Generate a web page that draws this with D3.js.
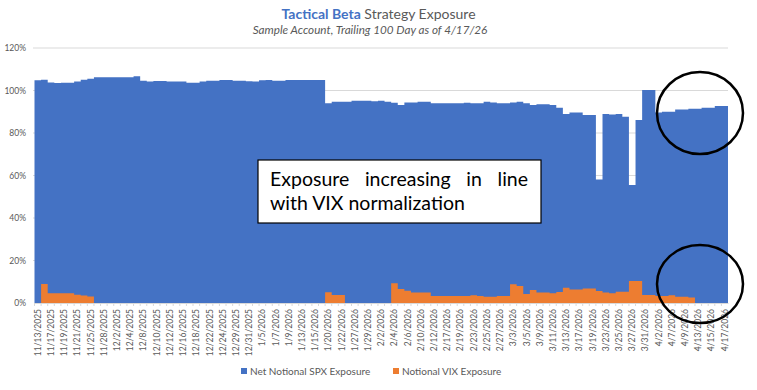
<!DOCTYPE html>
<html><head><meta charset="utf-8">
<script src="https://cdn.jsdelivr.net/npm/d3@7/dist/d3.min.js"></script>
<style>body{margin:0;background:#fff}svg{display:block}</style>
</head><body>
<svg id="c" width="757" height="390"></svg>
<script>
const dates = ["11/13/2025","11/14/2025","11/17/2025","11/18/2025","11/19/2025","11/20/2025","11/21/2025","11/24/2025","11/25/2025","11/26/2025","11/28/2025",
"12/1/2025","12/2/2025","12/3/2025","12/4/2025","12/5/2025","12/8/2025","12/9/2025","12/10/2025","12/11/2025","12/12/2025","12/15/2025","12/16/2025","12/17/2025","12/18/2025","12/19/2025","12/22/2025","12/23/2025","12/24/2025","12/26/2025","12/29/2025","12/30/2025","12/31/2025",
"1/2/2026","1/5/2026","1/6/2026","1/7/2026","1/8/2026","1/9/2026","1/12/2026","1/13/2026","1/14/2026","1/15/2026","1/16/2026","1/20/2026","1/21/2026","1/22/2026","1/23/2026","1/27/2026","1/28/2026","1/29/2026","1/30/2026",
"2/2/2026","2/3/2026","2/4/2026","2/5/2026","2/6/2026","2/9/2026","2/10/2026","2/11/2026","2/12/2026","2/13/2026","2/17/2026","2/18/2026","2/19/2026","2/20/2026","2/23/2026","2/24/2026","2/25/2026","2/26/2026","2/27/2026",
"3/2/2026","3/3/2026","3/4/2026","3/5/2026","3/6/2026","3/9/2026","3/10/2026","3/11/2026","3/12/2026","3/13/2026","3/16/2026","3/17/2026","3/18/2026","3/19/2026","3/20/2026","3/23/2026","3/24/2026","3/25/2026","3/26/2026","3/27/2026","3/30/2026","3/31/2026",
"4/1/2026","4/2/2026","4/6/2026","4/7/2026","4/8/2026","4/9/2026","4/10/2026","4/13/2026","4/14/2026","4/15/2026","4/16/2026","4/17/2026"];

const spx = [104.8,105.1,103.8,103.5,103.6,103.7,104.2,105.1,105.5,106.2,106.2,
106.2,106.2,106.2,106.2,106.7,104.6,104.2,104.5,104.5,104.2,104.2,104.2,103.7,103.7,104.2,104.6,104.6,104.9,104.9,104.6,104.6,104.3,
104.2,104.8,105.0,104.6,104.6,104.9,104.9,104.9,104.9,104.9,104.9,94.0,94.7,94.7,94.7,95.2,95.2,95.2,94.9,
95.2,94.7,94.2,93.2,94.4,94.4,94.7,94.7,94.0,94.0,94.0,94.0,94.0,94.2,94.0,94.0,94.7,94.4,94.0,
94.0,94.4,94.7,94.0,93.2,93.5,93.5,93.2,91.9,88.9,89.7,89.7,88.5,88.5,58.1,88.9,88.7,88.9,87.7,55.5,86.1,100.2,
100.2,89.6,90.0,90.0,91.1,91.1,91.4,91.4,91.9,91.9,92.7,92.7];

const vix = [0,8.9,4.6,4.6,4.6,4.6,3.9,3.5,3.1,0,0,
0,0,0,0,0,0,0,0,0,0,0,0,0,0,0,0,0,0,0,0,0,0,
0,0,0,0,0,0,0,0,0,0,0,5.1,3.8,3.8,0,0,0,0,0,
0,0,9.3,6.6,5.8,5.0,5.0,5.0,3.3,3.3,3.3,3.3,3.3,3.3,3.6,3.3,3.0,3.0,3.3,
3.3,8.8,8.0,4.2,6.1,4.9,4.9,4.6,5.2,7.2,6.4,6.4,6.8,6.8,5.6,5.0,4.6,5.3,5.3,10.4,10.4,3.8,
3.8,3.3,3.3,3.6,3.0,3.0,2.6,0,0,0,0,0];

const yTicks = [0,20,40,60,80,100,120];
const seriesNames = ["Net Notional SPX Exposure","Notional VIX Exposure"];
const titleBold = "Tactical Beta";
const titleRest = " Strategy Exposure";
const subtitle = "Sample Account, Trailing 100 Day as of 4/17/26";
const noteLines = [["Exposure","increasing","in","line"],["with","VIX","normalization"]];

const BLUE = "#4472C4", ORANGE = "#ED7D31", GRAY = "#595959";
const FONT = "Lato, 'Open Sans', sans-serif";
const svg = d3.select("#c");

const x = d3.scaleBand().domain(dates).range([34.5, 728]).padding(0);
const y = d3.scaleLinear().domain([0, 120]).range([303, 48]);

// gridlines
svg.append("g").selectAll("line").data(yTicks.filter(d=>d>0)).join("line")
  .attr("x1", 33).attr("x2", 728)
  .attr("y1", d=>y(d)).attr("y2", d=>y(d))
  .attr("stroke", "#d9d9d9").attr("stroke-width", 1);

// y axis labels
const yAxis = d3.axisLeft(y).tickValues(yTicks).tickFormat(d=>d+"%").tickSize(0).tickPadding(0);
const ya = svg.append("g").attr("transform","translate(26,0)").call(yAxis);
ya.select(".domain").remove();
ya.selectAll("text").attr("fill", GRAY).style("font-family", FONT).style("font-size","8.5px");

// bars (stepped outlines built from the band scale so adjacent bars join without seams)
function stepPath(vals){
  const a = d3.area()
    .x(d=>d.x).y0(y(0)).y1(d=>d.y).curve(d3.curveLinear);
  const pts = [];
  dates.forEach((d,i)=>{
    const v = vals[i];
    pts.push({x:x(d), y:y(v)});
    pts.push({x:x(d)+x.bandwidth(), y:y(v)});
  });
  return a(pts);
}
svg.append("path").attr("d", stepPath(spx)).attr("fill", BLUE);
svg.append("path").attr("d", stepPath(vix)).attr("fill", ORANGE);

// x axis
const xAxis = d3.axisBottom(x).tickValues(dates.filter((d,i)=>i%2===0)).tickSize(0).tickPadding(0);
const xa = svg.append("g").attr("transform","translate(0,303)").call(xAxis);
xa.select(".domain").attr("stroke","#d9d9d9");
xa.selectAll("text").attr("fill", GRAY).style("font-family", FONT).style("font-size","8.5px")
  .attr("text-anchor","end").attr("y",0).attr("dy","0.35em")
  .attr("transform","translate(0,6) rotate(-90)");
// small category tick marks
svg.append("g").selectAll("line").data(dates).join("line")
  .attr("x1", d=>x(d)).attr("x2", d=>x(d)).attr("y1",303).attr("y2",306)
  .attr("stroke","#d9d9d9").attr("stroke-width",1);

// title
const t = svg.append("text").attr("x", 378.5).attr("y", 19).attr("text-anchor","middle")
  .style("font-family", FONT).style("font-size","14px");
t.append("tspan").text(titleBold).attr("fill","#4472C4").style("font-weight","bold");
t.append("tspan").text(titleRest).attr("fill", GRAY);
svg.append("text").attr("x", 370).attr("y", 34).attr("text-anchor","middle")
  .attr("fill", GRAY).style("font-family", FONT).style("font-size","11.7px").style("font-style","italic")
  .text(subtitle);

// note box
svg.append("rect").attr("x",258).attr("y",160).attr("width",283).attr("height",63)
  .attr("fill","#fff").attr("stroke","#000").attr("stroke-width",1.2);
const fs = 19.5;
const l1 = noteLines[0];
const tmp = svg.append("g").style("font-family", FONT).style("font-size", fs+"px");
const widths = l1.map(w => { const n = tmp.append("text").text(w); const v = n.node().getComputedTextLength(); n.remove(); return v; });
const left = 270, right = 528;
const gap = (right-left - d3.sum(widths))/(l1.length-1);
let cx = left;
l1.forEach((w,i)=>{ tmp.append("text").attr("x",cx).attr("y",185.5).attr("fill","#000").text(w); cx += widths[i]+gap; });
tmp.append("text").attr("x",left).attr("y",210).attr("fill","#000").text(noteLines[1].join(" "));

// ellipses
svg.append("ellipse").attr("cx",700).attr("cy",113).attr("rx",43).attr("ry",41)
  .attr("fill","none").attr("stroke","#000").attr("stroke-width",2.5);
svg.append("ellipse").attr("cx",700).attr("cy",284).attr("rx",43).attr("ry",39)
  .attr("fill","none").attr("stroke","#000").attr("stroke-width",2.5);

// legend
const leg = [{n:seriesNames[0], c:BLUE, x:241},{n:seriesNames[1], c:ORANGE, x:393}];
const lg = svg.append("g");
leg.forEach(l=>{
  lg.append("rect").attr("x",l.x).attr("y",368).attr("width",6).attr("height",6).attr("fill",l.c);
  lg.append("text").attr("x",l.x+9).attr("y",371).attr("dy","0.35em").attr("fill",GRAY)
    .style("font-family",FONT).style("font-size","10px").text(l.n);
});
</script>
</body></html>
